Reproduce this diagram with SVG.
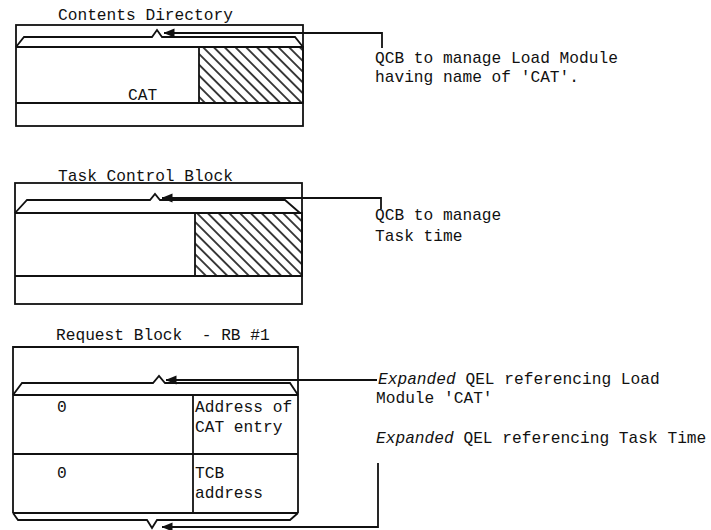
<svg xmlns="http://www.w3.org/2000/svg" width="711" height="530" viewBox="0 0 711 530">
<style>
  .ln{fill:none;stroke:#111;stroke-width:1.8;stroke-linejoin:miter}
  .cn{fill:none;stroke:#111;stroke-width:1.8}
  .tx{font-family:"Liberation Mono","DejaVu Sans Mono",monospace;font-size:16.2px;fill:#111;white-space:pre}
  .it{font-style:italic}
  .hatch{fill:url(#hatch);stroke:#111;stroke-width:1.8}
</style>
<defs>
  <pattern id="hatch" patternUnits="userSpaceOnUse" width="7.6" height="7.6" patternTransform="rotate(45)">
    <line x1="-1" y1="3.8" x2="9" y2="3.8" stroke="#111" stroke-width="1.6"/>
  </pattern>
  <marker id="ah" markerUnits="userSpaceOnUse" markerWidth="11" markerHeight="10" refX="10.5" refY="5" orient="auto">
    <path d="M0,0.5 L11,5 L0,9.5 z" fill="#111"/>
  </marker>
</defs>
<rect width="711" height="530" fill="#fff"/>

<g id="contents-directory">
  <text class="tx" x="58" y="20">Contents Directory</text>
  <rect class="ln" x="16" y="25" width="287" height="101"/>
  <path class="ln" d="M16,47 L24,37 L152,37 L157,30 L162,37 L295,37 L303,47"/>
  <line class="ln" x1="16" y1="47" x2="303" y2="47"/>
  <rect class="hatch" x="199" y="47" width="104" height="56"/>
  <line class="ln" x1="16" y1="103" x2="303" y2="103"/>
  <text class="tx" x="128" y="100">CAT</text>
</g>

<g id="task-control-block">
  <text class="tx" x="58" y="181">Task Control Block</text>
  <rect class="ln" x="15" y="183" width="287" height="121"/>
  <path class="ln" d="M15,213 L27,200 L150,200 L155,194 L160,200 L285,200 L300,213"/>
  <line class="ln" x1="15" y1="213" x2="302" y2="213"/>
  <rect class="hatch" x="195" y="213" width="107" height="63"/>
  <line class="ln" x1="15" y1="276" x2="302" y2="276"/>
</g>

<g id="request-block">
  <text class="tx" x="56" y="340">Request Block  - RB #1</text>
  <path class="ln" d="M13,513 L13,347 L298,347 L298,513"/>
  <path class="ln" d="M13,395 L22,383 L153,383 L159,376 L165,383 L290,383 L298,395"/>
  <line class="ln" x1="13" y1="395" x2="298" y2="395"/>
  <line class="ln" x1="13" y1="454" x2="298" y2="454"/>
  <line class="ln" x1="193" y1="395" x2="193" y2="513"/>
  <line class="ln" x1="13" y1="513" x2="298" y2="513"/>
  <path class="ln" d="M13,513 L18,520 L147,520 L152,528 L157,520 L290,520 L298,513"/>
  <text class="tx" x="57" y="412">0</text>
  <text class="tx" x="195" y="412">Address of</text>
  <text class="tx" x="195" y="432">CAT entry</text>
  <text class="tx" x="57" y="478">0</text>
  <text class="tx" x="195" y="478">TCB</text>
  <text class="tx" x="195" y="498">address</text>
</g>

<g id="label-qcb-load">
  <text class="tx" x="375" y="63">QCB to manage Load Module</text>
  <text class="tx" x="375" y="82">having name of 'CAT'.</text>
</g>
<g id="label-qcb-task">
  <text class="tx" x="375" y="220">QCB to manage</text>
  <text class="tx" x="375" y="241">Task time</text>
</g>
<g id="label-qel-load">
  <text class="tx" x="378" y="384"><tspan class="it">Expanded</tspan> QEL referencing Load</text>
  <text class="tx" x="376" y="403">Module 'CAT'</text>
</g>
<g id="label-qel-task">
  <text class="tx" x="376" y="443"><tspan class="it">Expanded</tspan> QEL referencing Task Time</text>
</g>

<g id="connectors">
  <path class="cn" d="M382,48 L382,33 L164,33" marker-end="url(#ah)"/>
  <path class="cn" d="M381,209 L381,198 L162,198" marker-end="url(#ah)"/>
  <path class="cn" d="M377,380 L166,380" marker-end="url(#ah)"/>
  <path class="cn" d="M378,463 L378,527 L162,527" marker-end="url(#ah)"/>
</g>
</svg>
